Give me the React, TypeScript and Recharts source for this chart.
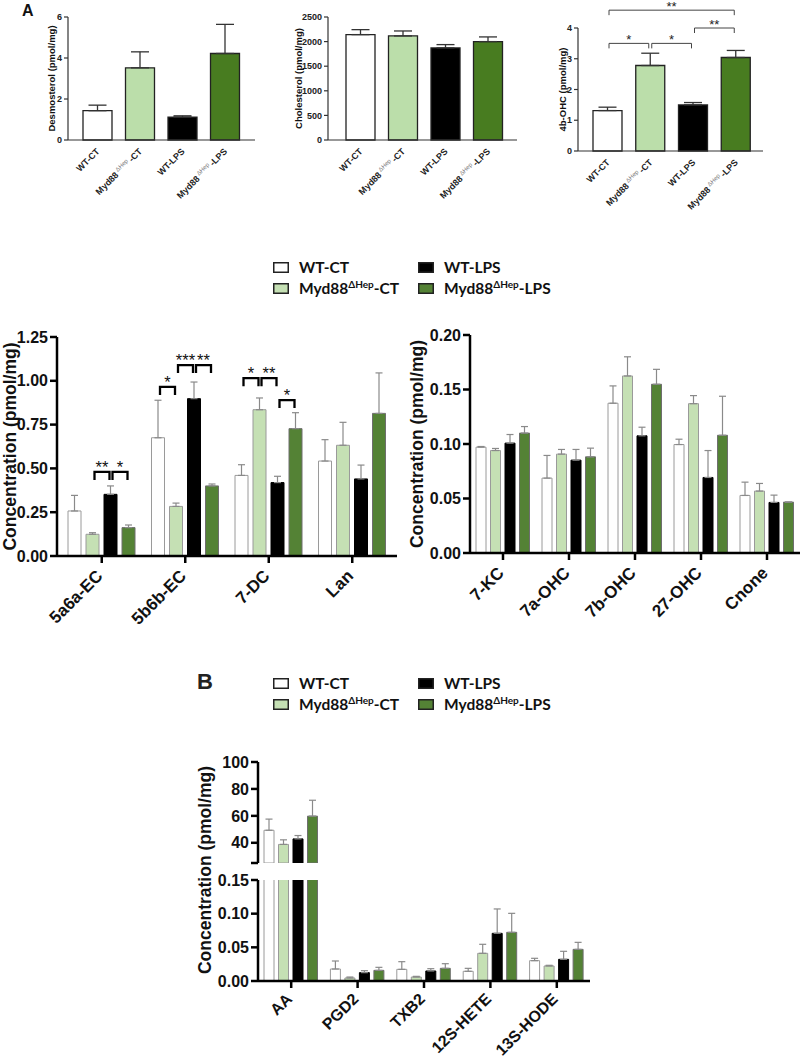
import React from 'react';
import { BarChart, Bar, XAxis, YAxis, ErrorBar, Cell, LabelList, Label } from 'recharts';

const AXIS_FONT = "'Liberation Sans', Arial, Helvetica, sans-serif";
const LEGEND_FONT = "Lato, 'Open Sans', sans-serif";

const groups = ['WT-CT', 'Myd88ΔHep-CT', 'WT-LPS', 'Myd88ΔHep-LPS'];

// A, top row (mean and upper error)
const desmosterol = [1.43, 3.52, 1.12, 4.22];
const desmosterolErr = [0.27, 0.78, 0.06, 1.42];
const cholesterol = [2142, 2115, 1872, 2000];
const cholesterolErr = [101, 101, 67, 95];
const ohc4b = [1.315, 2.78, 1.5, 3.04];
const ohc4bErr = [0.11, 0.4, 0.076, 0.23];

// A, sterols
const sterolCats = ['5a6a-EC', '5b6b-EC', '7-DC', 'Lan'];
const sterolWtCt = [0.257, 0.675, 0.46, 0.542];
const sterolWtCtErr = [0.089, 0.214, 0.061, 0.122];
const sterolMydCt = [0.124, 0.283, 0.835, 0.632];
const sterolMydCtErr = [0.009, 0.019, 0.067, 0.131];
const sterolWtLps = [0.352, 0.898, 0.419, 0.44];
const sterolWtLpsErr = [0.048, 0.095, 0.036, 0.079];
const sterolMydLps = [0.162, 0.4, 0.727, 0.814];
const sterolMydLpsErr = [0.015, 0.011, 0.091, 0.231];

// A, oxysterols
const oxyCats = ['7-KC', '7a-OHC', '7b-OHC', '27-OHC', 'Cnone'];
const oxyWtCt = [0.0971, 0.0687, 0.1374, 0.0995, 0.0528];
const oxyWtCtErr = [0.0006, 0.0208, 0.0159, 0.0049, 0.0122];
const oxyMydCt = [0.094, 0.0907, 0.1624, 0.137, 0.0568];
const oxyMydCtErr = [0.0019, 0.0043, 0.0176, 0.0074, 0.007];
const oxyWtLps = [0.1008, 0.0852, 0.1075, 0.0693, 0.0464];
const oxyWtLpsErr = [0.0079, 0.0098, 0.0079, 0.0247, 0.0067];
const oxyMydLps = [0.11, 0.0882, 0.1548, 0.108, 0.0467];
const oxyMydLpsErr = [0.006, 0.008, 0.0137, 0.0358, 0];

// B, eicosanoids
const eicoCats = ['AA', 'PGD2', 'TXB2', '12S-HETE', '13S-HODE'];
const eicoWtCt = [49.3, 0.0178, 0.0173, 0.0144, 0.0302];
const eicoWtCtErr = [8.3, 0.0119, 0.0114, 0.0044, 0.0035];
const eicoMydCt = [38.8, 0.0045, 0.0059, 0.0411, 0.0223];
const eicoMydCtErr = [3.4, 0.0014, 0.001, 0.0134, 0.001];
const eicoWtLps = [42.9, 0.0124, 0.0149, 0.0708, 0.0322];
const eicoWtLpsErr = [2.5, 0.0029, 0.0034, 0.0362, 0.0119];
const eicoMydLps = [59.8, 0.0158, 0.0188, 0.0723, 0.047];
const eicoMydLpsErr = [11.8, 0.0045, 0.0069, 0.0282, 0.0104];
const eicoBreak = 25; // upper segment of the broken axis starts here

// significance brackets (level in data units)
const ohcBrackets = [
  { from: 0, to: 1, level: 3.5, mark: '*' },
  { from: 1, to: 2, level: 3.5, mark: '*' },
  { from: 2, to: 3, level: 4.0, mark: '**' },
  { from: 0, to: 3, level: 4.58, mark: '**' },
];
const sterolBrackets = [
  { cat: '5a6a-EC', from: 1, to: 2, level: 0.48, mark: '**' },
  { cat: '5a6a-EC', from: 2, to: 3, level: 0.48, mark: '*' },
  { cat: '5b6b-EC', from: 0, to: 1, level: 0.965, mark: '*' },
  { cat: '5b6b-EC', from: 1, to: 2, level: 1.09, mark: '***' },
  { cat: '5b6b-EC', from: 2, to: 3, level: 1.09, mark: '**' },
  { cat: '7-DC', from: 0, to: 1, level: 1.015, mark: '*' },
  { cat: '7-DC', from: 1, to: 2, level: 1.015, mark: '**' },
  { cat: '7-DC', from: 2, to: 3, level: 0.89, mark: '*' },
];

const seriesKeys = ['wtCt', 'mydCt', 'wtLps', 'mydLps'];
const seriesFill = ['#ffffff', '#c5e0b4', '#000000', '#548235'];
const seriesStroke = ['#9a9a9a', '#9a9a9a', '#000000', '#6e6e6e'];
const topFill = ['#ffffff', '#bbdeaa', '#000000', '#487c20'];

const makeRows = (cats: string[], vals: number[][], errs: number[][]) =>
  cats.map((cat, i) => {
    const row: any = { cat };
    seriesKeys.forEach((k, s) => {
      row[k] = vals[s][i];
      row[k + 'Err'] = [0, errs[s][i]];
    });
    return row;
  });

const sterolRows = makeRows(sterolCats, [sterolWtCt, sterolMydCt, sterolWtLps, sterolMydLps],
  [sterolWtCtErr, sterolMydCtErr, sterolWtLpsErr, sterolMydLpsErr]);
const oxyRows = makeRows(oxyCats, [oxyWtCt, oxyMydCt, oxyWtLps, oxyMydLps],
  [oxyWtCtErr, oxyMydCtErr, oxyWtLpsErr, oxyMydLpsErr]);
const eicoRows = makeRows(eicoCats, [eicoWtCt, eicoMydCt, eicoWtLps, eicoMydLps],
  [eicoWtCtErr, eicoMydCtErr, eicoWtLpsErr, eicoMydLpsErr]);
// upper segment only shows the values above the break
const eicoUpperRows = eicoRows.map((r) => {
  const o: any = { ...r };
  seriesKeys.forEach((k) => {
    if (r[k] < eicoBreak) {
      o[k] = null;
      o[k + 'Err'] = null;
    }
  });
  return o;
});

const rotLabel = (text: string, gap: number, size: number) => (props: any) => {
  const vb = props.viewBox;
  if (!vb) return null;
  const cx = vb.x + vb.width - gap;
  const cy = vb.y + vb.height / 2;
  return (
    <text x={cx} y={cy} transform={`rotate(-90 ${cx} ${cy})`} textAnchor="middle" dominantBaseline="central"
      fontSize={size} fontWeight="bold" fontFamily={AXIS_FONT} fill="#111">
      {text}
    </text>
  );
};

const TopTick = (props: any) => {
  const { x, y, payload } = props;
  const parts = String(payload.value).split('ΔHep');
  return (
    <g transform={`translate(${x + 3},${y + 12}) rotate(-45)`}>
      <text textAnchor="end" fontSize={9} fontWeight="bold" fontFamily={AXIS_FONT} fill="#222">
        {parts.length > 1 ? (
          <>
            <tspan>{parts[0]}</tspan>
            <tspan fontSize={6} fontWeight="normal" fill="#777" dy={-3.5}>{' ΔHep '}</tspan>
            <tspan dy={3.5}>{parts[1]}</tspan>
          </>
        ) : payload.value}
      </text>
    </g>
  );
};

const MidTick = (props: any) => {
  const { x, y, payload, size = 17, shift = 14 } = props;
  return (
    <text transform={`translate(${x + 2},${y + shift}) rotate(-45)`} textAnchor="end" fontSize={size}
      fontWeight="bold" fontFamily={AXIS_FONT} fill="#111">
      {payload.value}
    </text>
  );
};

const TopPanel = ({ pos, values, errs, yAxisW, margin, xAxisH, padding, domain, ticks, yLabel, labelGap, brackets }: any) => {
  const rows = groups.map((g, i) => ({ cat: g, value: values[i], err: [0, errs[i]] }));
  const plotW = pos[2] - yAxisW - margin.right - padding.left - padding.right;
  const band = plotW / groups.length;
  const bracketContent = (props: any) => {
    const vb = props.viewBox ?? props;
    const i = groups.indexOf(props.value);
    const list = (brackets || []).filter((b: any) => b.from === i);
    if (!list.length) return null;
    const base = vb.y + vb.height;
    const ppu = vb.height / values[i];
    const cx = vb.x + vb.width / 2;
    return (
      <g>
        {list.map((b: any, k: number) => {
          const yy = base - b.level * ppu;
          const x1 = cx + 1.5;
          const x2 = cx + (b.to - b.from) * band - 1.5;
          return (
            <g key={k}>
              <path d={`M${x1},${yy + 5}V${yy}H${x2}V${yy + 5}`} fill="none" stroke="#444" strokeWidth={1} />
              <text x={(x1 + x2) / 2} y={yy + 0.5} textAnchor="middle" fontSize={13} fontFamily={AXIS_FONT} fill="#222">{b.mark}</text>
            </g>
          );
        })}
      </g>
    );
  };
  return (
    <div style={{ position: 'absolute', left: pos[0], top: pos[1] }}>
      <BarChart width={pos[2]} height={pos[3]} data={rows} margin={{ ...margin, left: 0, bottom: 0 }} barSize={29}>
        <XAxis dataKey="cat" height={xAxisH} padding={padding} interval={0} tickLine={false} tickSize={0} tickMargin={0}
          axisLine={{ stroke: '#333', strokeWidth: 1.2 }} tick={<TopTick />} />
        <YAxis width={yAxisW} domain={domain} ticks={ticks} interval={0} tickSize={4} tickMargin={2}
          axisLine={{ stroke: '#333', strokeWidth: 1.2 }} tickLine={{ stroke: '#333', strokeWidth: 1.2 }}
          tick={{ fontSize: 9, fontWeight: 'bold', fill: '#222', fontFamily: AXIS_FONT }}
          label={<Label content={rotLabel(yLabel, labelGap, 9.5)} />} />
        <Bar dataKey="value" stroke="#222" strokeWidth={1.3} isAnimationActive={false}>
          {rows.map((r, i) => <Cell key={r.cat} fill={topFill[i]} />)}
          <ErrorBar dataKey="err" width={9} stroke="#333" strokeWidth={1.3} isAnimationActive={false} />
          {brackets && <LabelList dataKey="cat" content={bracketContent} />}
        </Bar>
      </BarChart>
    </div>
  );
};

const GroupChart = ({ rows, pos, margin, yAxisW, xAxisH, hideX, padding, domain, ticks, fmt, barSize, barGap, yLabel, labelGap, brackets, overflow, tickSizePx, tickShift }: any) => {
  const step = barSize + barGap;
  const bracketContent = (s: number) => (props: any) => {
    const vb = props.viewBox ?? props;
    const row = rows.find((r: any) => r.cat === props.value);
    const list = (brackets || []).filter((b: any) => b.cat === props.value && b.from === s);
    if (!row || !list.length) return null;
    const base = vb.y + vb.height;
    const ppu = vb.height / row[seriesKeys[s]];
    const cx = vb.x + vb.width / 2;
    return (
      <g>
        {list.map((b: any, k: number) => {
          const yy = base - b.level * ppu;
          const x1 = cx + 2;
          const x2 = cx + (b.to - b.from) * step - 1;
          return (
            <g key={k}>
              <path d={`M${x1},${yy + 8}V${yy}H${x2}V${yy + 8}`} fill="none" stroke="#000" strokeWidth={2.3} />
              <text x={(x1 + x2) / 2} y={yy + 1} textAnchor="middle" fontSize={16.5}
                fontFamily={AXIS_FONT} fill="#111">{b.mark}</text>
            </g>
          );
        })}
      </g>
    );
  };
  return (
    <div style={{ position: 'absolute', left: pos[0], top: pos[1] }}>
      <BarChart width={pos[2]} height={pos[3]} data={rows} margin={{ ...margin, left: 0 }} barSize={barSize} barGap={barGap}>
        <XAxis dataKey="cat" hide={hideX} height={xAxisH} padding={padding} interval={0} tickSize={7} tickMargin={0}
          axisLine={{ stroke: '#000', strokeWidth: 2.5 }} tickLine={{ stroke: '#000', strokeWidth: 2.5 }}
          tick={<MidTick size={tickSizePx} shift={tickShift} />} />
        <YAxis width={yAxisW} domain={domain} ticks={ticks} interval={0} allowDataOverflow={overflow} tickFormatter={fmt}
          tickSize={7} tickMargin={2} axisLine={{ stroke: '#000', strokeWidth: 2.5 }} tickLine={{ stroke: '#000', strokeWidth: 2.5 }}
          tick={{ fontSize: 16, fontWeight: 'bold', fill: '#111', fontFamily: AXIS_FONT }}
          label={yLabel ? <Label content={rotLabel(yLabel, labelGap, 17.5)} /> : undefined} />
        {seriesKeys.map((k, s) => (
          <Bar key={k} dataKey={k} fill={seriesFill[s]} stroke={seriesStroke[s]} strokeWidth={1} isAnimationActive={false}>
            <ErrorBar dataKey={k + 'Err'} width={3.5} stroke="#8a8a8a" strokeWidth={1.2} isAnimationActive={false} />
            {brackets && <LabelList dataKey="cat" content={bracketContent(s)} />}
          </Bar>
        ))}
      </BarChart>
    </div>
  );
};

const LegendBlock = ({ x0, y0 }: { x0: number; y0: number }) => {
  const items = [
    { name: 'WT-CT', fill: seriesFill[0], dx: 0, dy: 0 },
    { name: 'Myd88ΔHep-CT', fill: seriesFill[1], dx: 0, dy: 21 },
    { name: 'WT-LPS', fill: seriesFill[2], dx: 145, dy: 0 },
    { name: 'Myd88ΔHep-LPS', fill: seriesFill[3], dx: 145, dy: 21 },
  ];
  return (
    <g>
      {items.map((it) => {
        const parts = it.name.split('ΔHep');
        return (
          <g key={it.name}>
            <rect x={x0 + it.dx + 0.75} y={y0 + it.dy + 0.75} width={14.5} height={9.5} fill={it.fill} stroke="#222" strokeWidth={1.5} />
            <text x={x0 + it.dx + 26} y={y0 + it.dy + 10.5} fontSize={15.5} fontWeight="bold" fontFamily={LEGEND_FONT} fill="#111">
              {parts.length > 1 ? (
                <>
                  <tspan>{parts[0]}</tspan>
                  <tspan fontSize={10} dy={-6}>ΔHep</tspan>
                  <tspan dy={6}>{parts[1]}</tspan>
                </>
              ) : it.name}
            </text>
          </g>
        );
      })}
    </g>
  );
};

const fmt2 = (v: number) => v.toFixed(2);

export default function App() {
  return (
    <div style={{ position: 'absolute', left: 0, top: 0, width: 800, height: 1058, background: '#fff' }}>
      <TopPanel pos={[0, 0, 270, 230]} values={desmosterol} errs={desmosterolErr} yAxisW={68}
        margin={{ top: 17, right: 15 }} xAxisH={90} padding={{ left: 8, right: 9 }} domain={[0, 6]} ticks={[0, 2, 4, 6]}
        yLabel="Desmosterol (pmol/mg)" labelGap={17} />
      <TopPanel pos={[260, 0, 270, 230]} values={cholesterol} errs={cholesterolErr} yAxisW={68}
        margin={{ top: 17, right: 13 }} xAxisH={90} padding={{ left: 11, right: 8 }} domain={[0, 2500]}
        ticks={[0, 500, 1000, 1500, 2000, 2500]} yLabel="Cholesterol (pmol/mg)" labelGap={30} />
      <TopPanel pos={[520, 0, 280, 230]} values={ohc4b} errs={ohc4bErr} yAxisW={58}
        margin={{ top: 28, right: 37 }} xAxisH={79} padding={{ left: 8, right: 6 }} domain={[0, 4]} ticks={[0, 1, 2, 3, 4]}
        yLabel="4b-OHC (pmol/mg)" labelGap={16} brackets={ohcBrackets} />

      <GroupChart rows={sterolRows} pos={[0, 300, 400, 360]} margin={{ top: 37, right: 3, bottom: 0 }} yAxisW={57} xAxisH={104}
        padding={{ left: 3, right: 3 }} domain={[0, 1.25]} ticks={[0, 0.25, 0.5, 0.75, 1, 1.25]} fmt={fmt2}
        barSize={13} barGap={5} yLabel="Concentration (pmol/mg)" labelGap={47} brackets={sterolBrackets} />
      <GroupChart rows={oxyRows} pos={[400, 300, 400, 360]} margin={{ top: 35, right: 0, bottom: 0 }} yAxisW={70} xAxisH={107}
        padding={{ left: 0, right: 0 }} domain={[0, 0.2]} ticks={[0, 0.05, 0.1, 0.15, 0.2]} fmt={fmt2}
        barSize={10} barGap={4.5} yLabel="Concentration (pmol/mg)" labelGap={53} />

      <GroupChart rows={eicoUpperRows} pos={[150, 740, 480, 125]} margin={{ top: 22, right: 40, bottom: 2 }} yAxisW={108} hideX
        padding={{ left: 0, right: 0 }} domain={[eicoBreak, 100]} ticks={[eicoBreak, 40, 60, 80, 100]} overflow
        fmt={(v: number) => (v === eicoBreak ? '' : String(v))} barSize={10} barGap={4.5} />
      <GroupChart rows={eicoRows} pos={[150, 865, 480, 193]} margin={{ top: 15, right: 40, bottom: 0 }} yAxisW={108} xAxisH={77}
        padding={{ left: 0, right: 0 }} domain={[0, 0.15]} ticks={[0, 0.05, 0.1, 0.15]} overflow fmt={fmt2}
        barSize={10} barGap={4.5} tickSizePx={16} tickShift={12} />

      <svg width={800} height={1058} style={{ position: 'absolute', left: 0, top: 0, pointerEvents: 'none' }}>
        <text x={22} y={15.5} fontSize={16} fontWeight="bold" fontFamily={AXIS_FONT} fill="#111">A</text>
        <LegendBlock x0={273} y0={262} />
        <text x={197} y={689} fontSize={22} fontWeight="bold" fontFamily={AXIS_FONT} fill="#222">B</text>
        <LegendBlock x0={273} y0={678} />
        <text transform="translate(205,870) rotate(-90)" textAnchor="middle" dominantBaseline="central" fontSize={17.5}
          fontWeight="bold" fontFamily={AXIS_FONT} fill="#111">Concentration (pmol/mg)</text>
      </svg>
    </div>
  );
}
